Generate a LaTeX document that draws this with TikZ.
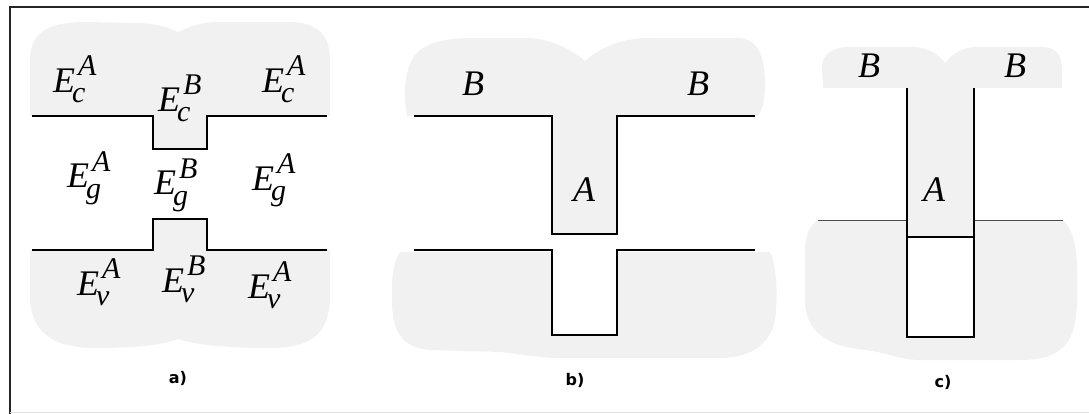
\documentclass[tikz,border=0pt]{standalone}
\usepackage{fontspec}
\setmainfont{Liberation Serif}
\newfontfamily\capfont{DejaVu Sans}
\definecolor{blobgray}{RGB}{241,241,241}
\newcommand{\scr}[1]{{\fontsize{30}{30}\selectfont\textit{#1}}}
\newcommand{\Elab}[2]{\textit{E}\kern-1pt\rlap{\smash{\raisebox{17pt}{\kern4pt\scr{#1}}}}\smash{\raisebox{-10pt}{\kern-2pt\scr{#2}}}\phantom{\scr{#1}}}
\tikzset{
  blob/.style={fill=blobgray},
  edgeline/.style={draw=black,line width=1.2pt},
  thinedge/.style={draw=black!70,line width=0.9pt},
  lab/.style={inner sep=0pt,anchor=base west,font=\fontsize{36}{40}\selectfont},
  captext/.style={inner sep=0pt,font=\capfont\bfseries\fontsize{16}{18}\selectfont}
}
\begin{document}
\begin{tikzpicture}[x=1pt,y=-1pt]
\useasboundingbox (0,0) rectangle (1089,414);
% frame
\draw[line width=1.6pt,black!85] (10,414) -- (10,7) -- (1089,7);
\draw[line width=0.6pt,black!12] (10,412.5) -- (1089,412.5);

% ---------- panel a ----------
\fill[blob] (30,116) -- (30,60) .. controls (30,35) and (45,22) .. (85,22) -- (140,23) .. controls (158,24) and (170,28) .. (178,32) .. controls (186,28) and (198,23) .. (215,22) -- (290,22) .. controls (320,22) and (330,38) .. (330,60) -- (330,116) -- (207,116) -- (207,149) -- (153,149) -- (153,116) -- cycle;
\fill[blob] (30,250) -- (153,250) -- (153,219) -- (207,219) -- (207,250) -- (330,250) -- (330,295) .. controls (330,335) and (310,348) .. (270,348) .. controls (230,348) and (195,345) .. (178,339) .. controls (160,346) and (130,348) .. (95,348) .. controls (50,348) and (30,330) .. (30,295) -- cycle;
\draw[edgeline] (32,116) -- (153,116) -- (153,149) -- (207,149) -- (207,116) -- (327,116);
\draw[edgeline] (32,250) -- (153,250) -- (153,219) -- (207,219) -- (207,250) -- (327,250);
\node[lab] (eca1) at (53,93) {\Elab{A}{c}};
\node[lab] (ecb) at (158,112) {\Elab{B}{c}};
\node[lab] (eca2) at (262,93) {\Elab{A}{c}};
\node[lab] (ega1) at (67,188) {\Elab{A}{g}};
\node[lab] (egb) at (154,195) {\Elab{B}{g}};
\node[lab] (ega2) at (252,190) {\Elab{A}{g}};
\node[lab] (eva1) at (77,295) {\Elab{A}{v}};
\node[lab] (evb) at (162,292) {\Elab{B}{v}};
\node[lab] (eva2) at (248,298) {\Elab{A}{v}};
\node[captext] (capa) at (178,378) {a)};

% ---------- panel b ----------
\fill[blob] (407,116) .. controls (403,95) and (404,70) .. (415,55) .. controls (428,40) and (450,38) .. (480,38) -- (530,38) .. controls (555,40) and (575,52) .. (585,61) .. controls (600,48) and (620,38) .. (650,38) -- (740,38) .. controls (760,40) and (765,60) .. (765,85) .. controls (765,100) and (762,110) .. (758,116) -- (617,116) -- (617,234) -- (552,234) -- (552,116) -- cycle;
\fill[blob] (400,252) -- (770,252) .. controls (777,265) and (778,300) .. (775,320) .. controls (770,345) and (750,358) .. (720,358) -- (560,358) .. controls (540,358) and (520,354) .. (500,352) -- (430,350) .. controls (405,348) and (393,335) .. (392,305) .. controls (391,280) and (393,262) .. (400,252) -- cycle;
\fill[white] (552,250) rectangle (617,335);
\draw[edgeline] (414,116) -- (552,116) -- (552,234) -- (617,234) -- (617,116) -- (755,116);
\draw[edgeline] (414,250) -- (552,250) -- (552,335) -- (617,335) -- (617,250) -- (755,250);
\node[lab] (bb1) at (462,96) {\textit{B}};
\node[lab] (bb2) at (687,96) {\textit{B}};
\node[lab] (ba) at (573,201) {\textit{A}};
\node[captext] (capb) at (575,380) {b)};

% ---------- panel c ----------
\fill[blob] (823,88) -- (822,68) .. controls (822,52) and (835,47) .. (850,47) -- (915,47) .. controls (930,48) and (940,56) .. (945,63) .. controls (952,54) and (962,47) .. (978,47) -- (1045,47) .. controls (1058,48) and (1062,58) .. (1062,70) -- (1062,88) -- (974,88) -- (974,237) -- (907,237) -- (907,88) -- cycle;
\fill[blob] (818,220) -- (1063,220) .. controls (1072,228) and (1077,245) .. (1077,270) -- (1077,300) .. controls (1077,345) and (1060,360) .. (1020,360) -- (920,360) .. controls (900,360) and (885,352) .. (865,350) .. controls (825,346) and (805,330) .. (805,300) -- (805,250) .. controls (805,235) and (810,225) .. (818,220) -- cycle;
\fill[white] (907,237) rectangle (974,337);
\draw[thinedge] (818,220) -- (907,220);
\draw[thinedge] (974,220) -- (1063,220);
\draw[edgeline] (907,88) -- (907,337) -- (974,337) -- (974,88);
\draw[edgeline] (907,237) -- (974,237);
\node[lab] (cb1) at (858,78) {\textit{B}};
\node[lab] (cb2) at (1004,78) {\textit{B}};
\node[lab] (ca) at (923,202) {\textit{A}};
\node[captext] (capc) at (943,382) {c)};
\end{tikzpicture}
\end{document}
